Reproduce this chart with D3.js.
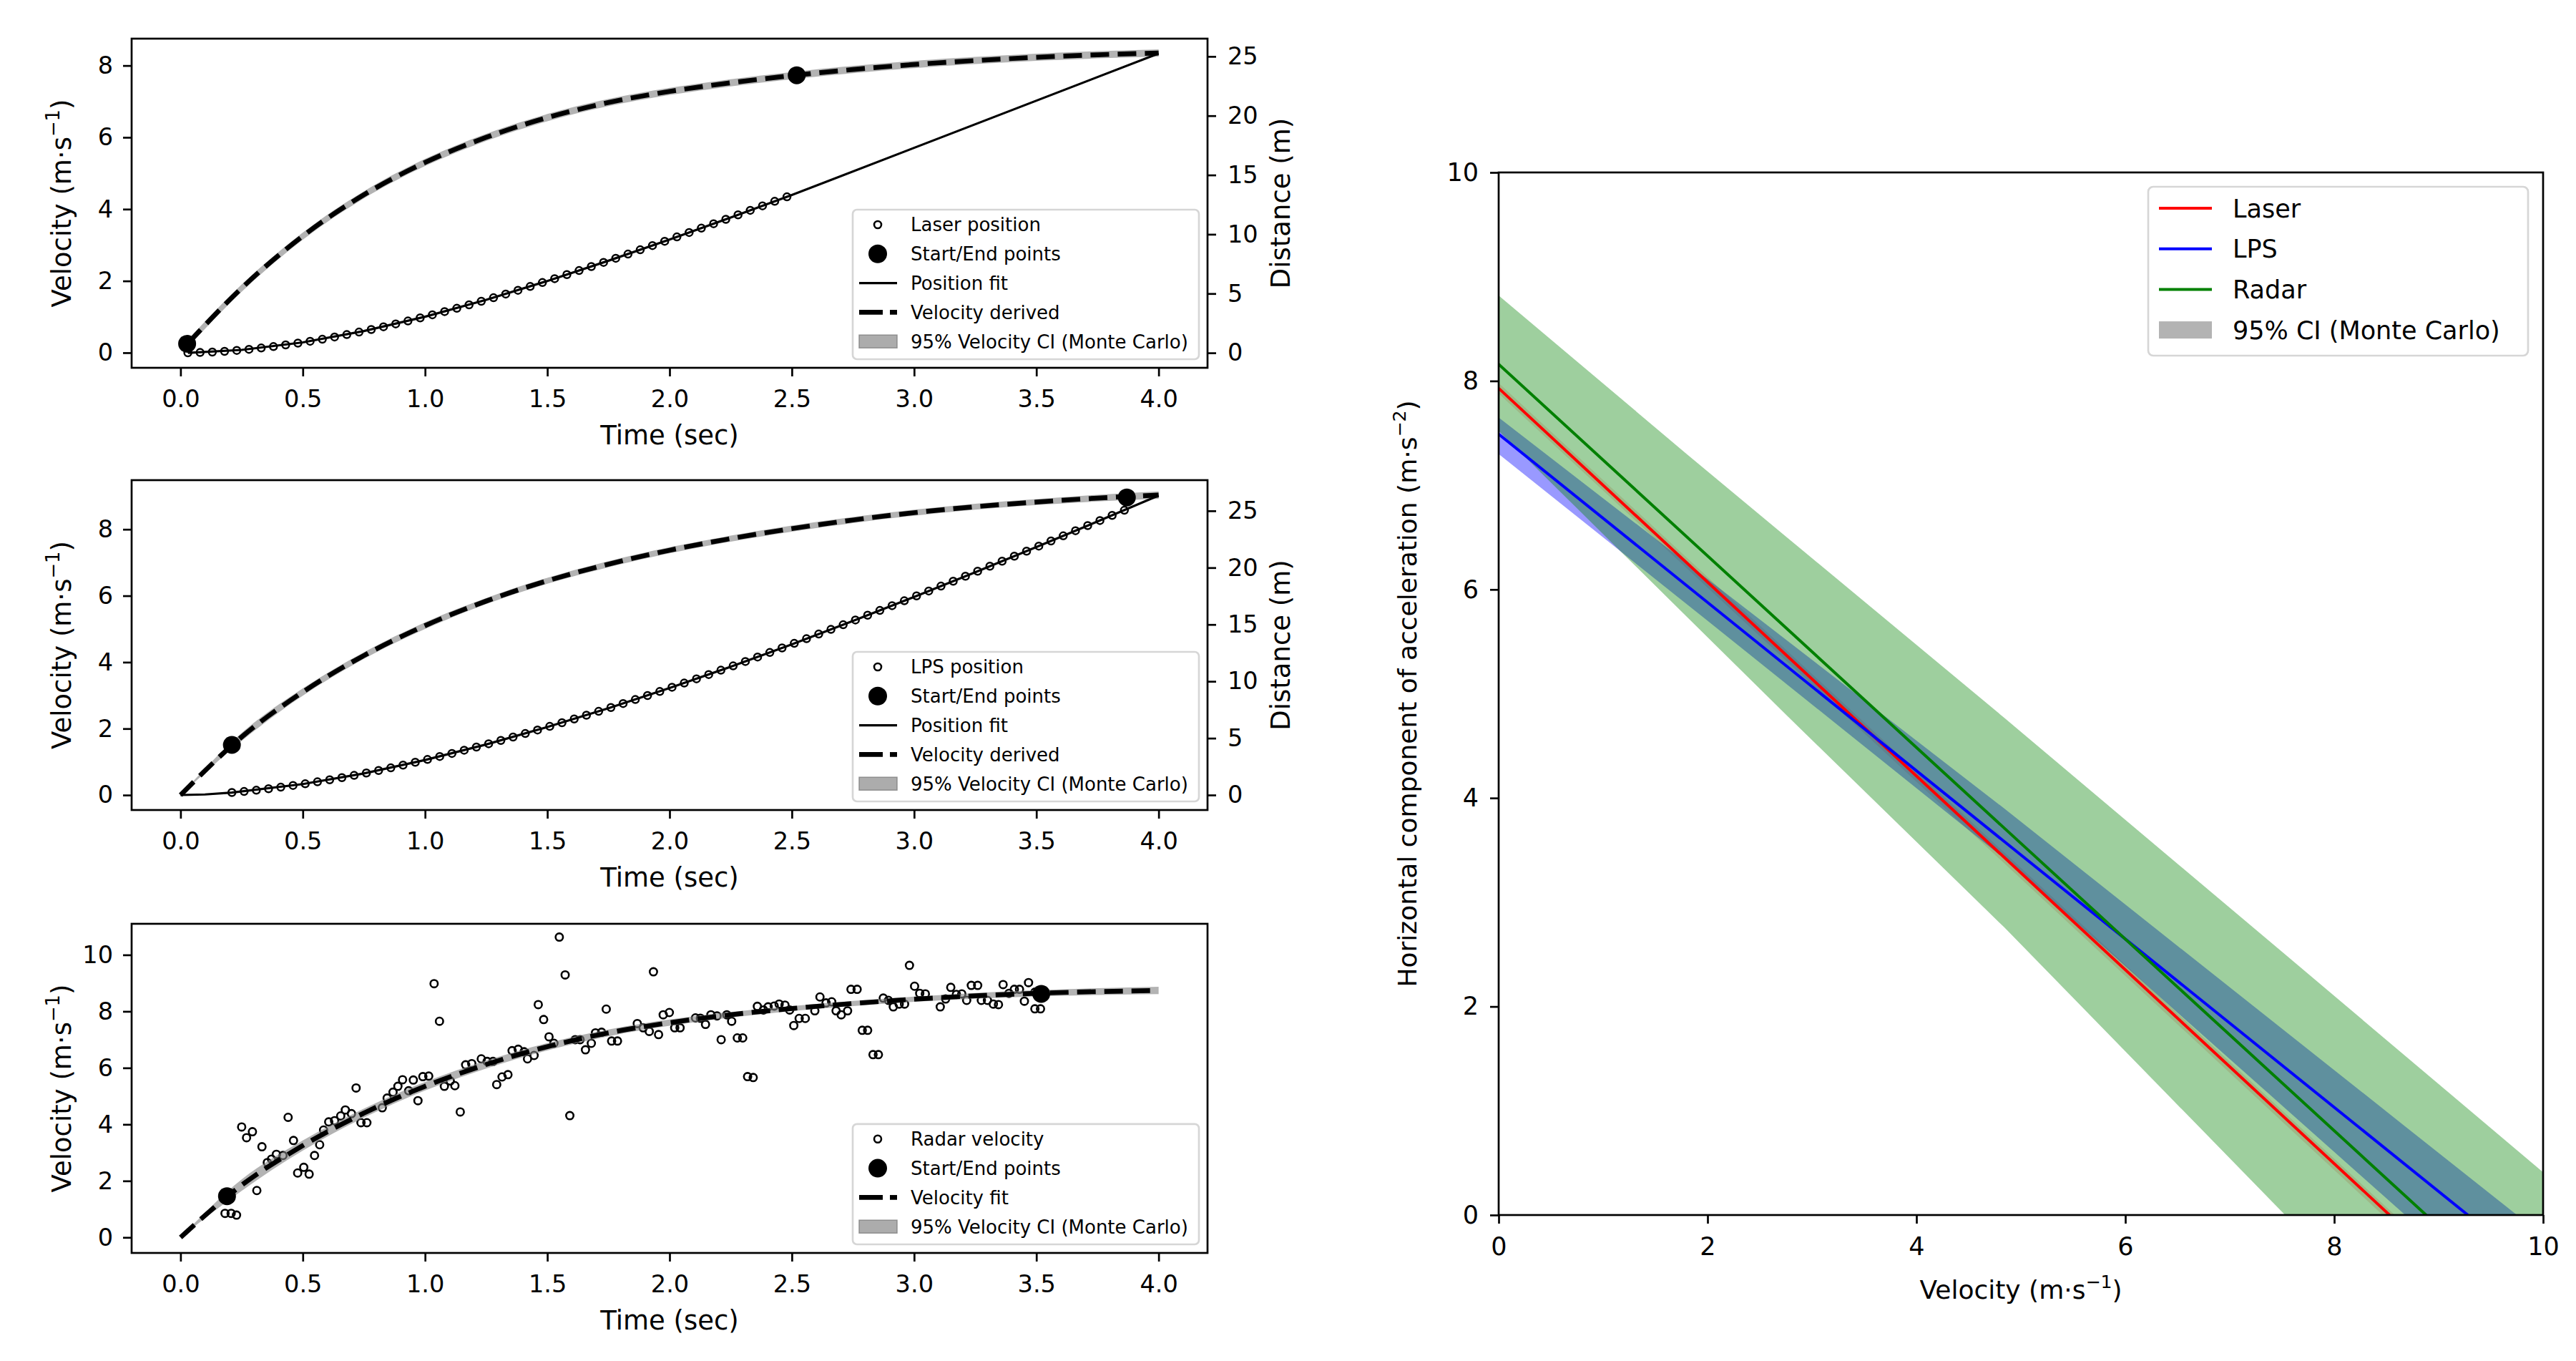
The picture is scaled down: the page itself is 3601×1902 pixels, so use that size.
<!DOCTYPE html>
<html>
<head>
<meta charset="utf-8">
<script src="https://cdn.jsdelivr.net/npm/d3@7"></script>
<style>
  body { margin: 0; background: #fff; }
  svg { display: block; font-family: "DejaVu Sans", sans-serif; }
</style>
</head>
<body>
<svg id="fig"></svg>
<script>
// ---------- data ----------
const timeTicks = [0, 0.5, 1.0, 1.5, 2.0, 2.5, 3.0, 3.5, 4.0];
const velGridT = [0, 0.25, 0.5, 0.75, 1.0, 1.25, 1.5, 1.75, 2.0, 2.25, 2.5, 2.75, 3.0, 3.25, 3.5, 3.75, 4.0];

// Laser panel
const laserPosT = [0.03,0.08,0.13,0.18,0.23,0.28,0.33,0.38,0.43,0.48,0.53,0.58,0.63,0.68,0.73,0.78,0.83,0.88,0.93,0.98,
  1.03,1.08,1.13,1.18,1.23,1.28,1.33,1.38,1.43,1.48,1.53,1.58,1.63,1.68,1.73,1.78,1.83,1.88,1.93,1.98,
  2.03,2.08,2.13,2.18,2.23,2.28,2.33,2.38,2.43,2.48];
const laserPos = [0.00,0.03,0.07,0.13,0.21,0.30,0.41,0.53,0.67,0.82,0.98,1.15,1.34,1.54,1.75,1.97,2.20,2.44,2.69,2.95,
  3.21,3.48,3.76,4.05,4.35,4.65,4.96,5.28,5.60,5.93,6.26,6.60,6.94,7.28,7.63,7.98,8.33,8.69,9.05,9.41,
  9.78,10.15,10.52,10.89,11.26,11.64,12.02,12.40,12.78,13.16];
const laserFitT = [0.03, 0.25, 0.5, 0.75, 1.0, 1.25, 1.5, 1.75, 2.0, 2.25, 2.5, 4.0];
const laserFitD = [0.00, 0.25, 0.88, 1.84, 3.05, 4.47, 6.06, 7.77, 9.56, 11.41, 13.31, 25.25];
const laserVelT = [0.03, 0.25, 0.5, 0.75, 1.0, 1.25, 1.5, 1.75, 2.0, 2.25, 2.5, 2.75, 3.0, 3.25, 3.5, 3.75, 4.0];
const laserVel   = [0.26,1.80,3.25,4.40,5.30,6.00,6.55,6.97,7.28,7.52,7.72,7.89,8.03,8.14,8.23,8.30,8.35];
const laserVelLo = [0.16,1.70,3.15,4.30,5.20,5.90,6.45,6.87,7.18,7.42,7.62,7.79,7.93,8.04,8.13,8.20,8.25];
const laserVelHi = [0.36,1.90,3.35,4.50,5.40,6.10,6.65,7.07,7.38,7.62,7.82,7.99,8.13,8.24,8.33,8.40,8.45];
const laserEndT = [0.027, 2.52];
const laserEndV = [0.25, 7.73];

// LPS panel
const lpsPosT = [0.21,0.26,0.31,0.36,0.41,0.46,0.51,0.56,0.61,0.66,0.71,0.76,0.81,0.86,0.91,0.96,
  1.01,1.06,1.11,1.16,1.21,1.26,1.31,1.36,1.41,1.46,1.51,1.56,1.61,1.66,1.71,1.76,1.81,1.86,1.91,1.96,
  2.01,2.06,2.11,2.16,2.21,2.26,2.31,2.36,2.41,2.46,2.51,2.56,2.61,2.66,2.71,2.76,2.81,2.86,2.91,2.96,
  3.01,3.06,3.11,3.16,3.21,3.26,3.31,3.36,3.41,3.46,3.51,3.56,3.61,3.66,3.71,3.76,3.81,3.86];
const lpsPos = [0.22,0.31,0.42,0.55,0.69,0.84,0.99,1.16,1.34,1.53,1.73,1.94,2.16,2.39,2.63,2.88,
  3.13,3.39,3.66,3.94,4.22,4.51,4.80,5.10,5.41,5.72,6.04,6.36,6.69,7.02,7.36,7.70,8.05,8.40,8.75,9.11,
  9.48,9.85,10.22,10.60,10.98,11.36,11.75,12.14,12.54,12.94,13.34,13.75,14.16,14.57,14.98,15.40,15.82,16.24,16.66,17.09,
  17.52,17.95,18.38,18.81,19.25,19.69,20.13,20.57,21.01,21.45,21.90,22.35,22.80,23.25,23.70,24.15,24.60,25.05];
const lpsFitT = [0, 0.1, 0.21, 0.5, 0.75, 1.0, 1.25, 1.5, 1.75, 2.0, 2.25, 2.5, 2.75, 3.0, 3.25, 3.5, 3.75, 4.0];
const lpsFitD = [0, 0.05, 0.22, 0.96, 1.90, 3.08, 4.45, 5.98, 7.63, 9.41, 11.28, 13.26, 15.32, 17.43, 19.60, 21.81, 24.06, 26.35];
const lpsVel   = [0,1.75,3.10,4.20,5.10,5.84,6.45,6.95,7.37,7.72,8.02,8.28,8.50,8.68,8.82,8.94,9.03];
const lpsVelLo = [0,1.63,2.99,4.10,5.00,5.75,6.36,6.86,7.28,7.63,7.93,8.19,8.41,8.59,8.73,8.84,8.92];
const lpsVelHi = [0,1.87,3.21,4.30,5.20,5.93,6.54,7.04,7.46,7.81,8.11,8.37,8.59,8.77,8.91,9.04,9.14];
const lpsEndT = [0.21, 3.87];
const lpsEndV = [1.51, 8.96];

// Radar panel
const radarT = [0.182,0.207,0.229,0.250,0.270,0.294,0.312,0.333,0.355,0.372,0.392,0.419,0.440,0.462,0.479,0.504,0.526,0.548,
  0.569,0.585,0.606,0.630,0.655,0.674,0.699,0.718,0.738,0.762,0.825,0.845,0.869,0.889,0.908,0.933,0.952,0.971,0.991,1.015,
  1.037,1.059,1.079,1.103,1.122,1.144,1.166,1.191,1.230,1.254,1.278,1.293,1.315,1.339,1.356,1.381,1.405,1.419,
  1.446,1.463,1.485,1.507,1.527,1.549,1.573,1.592,1.614,1.634,1.656,1.680,1.697,1.722,1.741,1.763,1.787,1.868,1.892,1.917,
  1.934,1.955,1.974,1.999,2.021,2.043,2.106,2.126,2.147,2.169,2.194,2.211,2.234,2.254,2.277,2.299,2.319,2.342,2.359,2.384,
  2.403,2.428,2.448,2.472,2.491,2.508,2.530,2.555,2.594,2.615,2.640,2.663,2.681,2.702,2.728,2.742,2.767,2.788,2.810,
  2.832,2.854,2.874,2.895,2.915,2.939,2.961,2.981,3.002,3.023,3.046,3.107,3.129,3.150,3.173,3.195,3.215,3.234,3.260,
  3.275,3.300,3.324,3.345,3.364,3.388,3.410,3.431,3.451,3.468,3.494,3.517,3.494,3.508];
const radarV = [0.85,0.85,0.79,3.91,3.53,3.74,1.66,3.21,2.65,2.77,2.94,2.90,4.25,3.43,2.28,2.48,2.24,2.90,
  3.28,3.80,4.09,4.13,4.30,4.51,4.38,5.29,4.06,4.06,4.59,4.93,5.14,5.35,5.58,5.19,5.57,4.84,5.69,5.71,
  8.98,7.65,5.35,5.54,5.37,4.44,6.11,6.15,6.32,6.23,6.23,5.41,5.68,5.76,6.61,6.66,6.57,6.32,
  6.44,8.24,7.71,7.10,6.87,10.63,9.29,4.31,7.00,7.00,6.64,6.87,7.24,7.26,8.08,6.95,6.95,7.57,7.42,7.29,
  9.40,7.18,7.88,7.96,7.42,7.42,7.77,7.76,7.54,7.88,7.84,7.00,7.88,7.65,7.06,7.06,5.69,5.66,8.18,8.05,
  8.16,8.19,8.26,8.22,8.05,7.50,7.75,7.75,8.02,8.51,8.30,8.34,8.02,7.88,8.02,8.78,8.78,7.33,7.33,
  6.47,6.47,8.47,8.39,8.16,8.26,8.26,9.63,8.89,8.64,8.62,8.16,8.44,8.85,8.60,8.62,8.39,8.92,8.92,
  8.39,8.39,8.26,8.24,8.95,8.64,8.78,8.78,8.36,9.02,8.09,8.09,8.68,8.51];
const radarFit = [0,1.85,3.25,4.40,5.35,6.12,6.75,7.24,7.60,7.88,8.10,8.28,8.43,8.55,8.64,8.70,8.74];
const radarLo  = [0,1.65,3.07,4.24,5.20,5.98,6.62,7.12,7.49,7.78,8.01,8.19,8.34,8.45,8.53,8.58,8.61];
const radarHi  = [0,2.05,3.43,4.56,5.50,6.26,6.88,7.36,7.71,7.98,8.19,8.37,8.52,8.65,8.75,8.82,8.87];
const radarEndT = [0.19, 3.52];
const radarEndV = [1.46, 8.62];

// Right panel: acceleration vs velocity
const accTicks = [0, 2, 4, 6, 8, 10];
const laserAccV = [0, 8.53], laserAccA = [7.93, 0];
const lpsAccV = [0, 9.28],   lpsAccA = [7.49, 0];
const radarAccV = [0, 8.88], radarAccA = [8.16, 0];
const laserBandV = [0, 10], laserBandLo = [7.88, -1.43], laserBandHi = [7.98, -1.32];
const lpsBandV = [0, 2, 4.84, 8.68, 9.75, 10];
const lpsBandLo = [7.30, 5.70, 3.42, 0, -0.95, -1.18];
const lpsBandHi = [7.65, 6.10, 3.90, 0.85, 0, -0.20];
const radarBandV = [0, 1.8, 2.76, 4.84, 7.53, 10];
const radarBandLo = [7.52, 5.74, 4.79, 2.76, 0, -2.54];
const radarBandHi = [8.82, 7.30, 6.50, 4.77, 2.50, 0.41];

// ---------- drawing ----------
const W = 3601, H = 1902;
const svg = d3.select("#fig").attr("width", W).attr("height", H);
svg.append("rect").attr("width", W).attr("height", H).attr("fill", "#fff");
const defs = svg.append("defs");

const LW = 2.7;                     // axes line width
const tx = d3.scaleLinear().domain([-0.2, 4.2]).range([184, 1688]);

function styleAxis(sel, fs) {
  sel.attr("font-family", "DejaVu Sans, sans-serif").attr("font-size", fs);
  sel.select(".domain").remove();
  sel.selectAll(".tick line").attr("stroke", "#000").attr("stroke-width", LW);
  sel.selectAll(".tick text").attr("fill", "#000");
}

function supLabel(parent, cx, cy, rot, pre, sup, post, fs) {
  const t = parent.append("text")
    .attr("transform", `translate(${cx},${cy}) rotate(${rot})`)
    .attr("text-anchor", "middle").attr("font-size", fs).attr("fill", "#000");
  t.append("tspan").text(pre);
  if (sup) {
    t.append("tspan").attr("font-size", fs * 0.7).attr("dy", -fs * 0.42).text(sup);
    t.append("tspan").attr("dy", fs * 0.42).text(post);
  }
  return t;
}

function clipFor(id, x0, y0, x1, y1) {
  defs.append("clipPath").attr("id", id).append("rect")
    .attr("x", x0).attr("y", y0).attr("width", x1 - x0).attr("height", y1 - y0);
  return `url(#${id})`;
}

function leftLegend(g, bottom, items) {
  const rowH = 40.8;
  const boxH = items.length * rowH + 5;
  const top = bottom - 12 - boxH;
  g.append("rect").attr("x", 1192).attr("y", top).attr("width", 484).attr("height", boxH)
    .attr("rx", 6).attr("fill", "#fff").attr("fill-opacity", 0.8)
    .attr("stroke", "#d6d6d6").attr("stroke-width", LW);
  items.forEach((it, i) => {
    const cy = top + 21 + i * rowH;
    if (it.kind === "ring") {
      g.append("circle").attr("cx", 1227).attr("cy", cy).attr("r", 5)
        .attr("fill", "none").attr("stroke", "#000").attr("stroke-width", 2.6);
    } else if (it.kind === "dot") {
      g.append("circle").attr("cx", 1227).attr("cy", cy).attr("r", 13).attr("fill", "#000");
    } else if (it.kind === "line") {
      g.append("line").attr("x1", 1201).attr("x2", 1254).attr("y1", cy).attr("y2", cy)
        .attr("stroke", "#000").attr("stroke-width", 3.4);
    } else if (it.kind === "dash") {
      g.append("line").attr("x1", 1201).attr("x2", 1234).attr("y1", cy).attr("y2", cy)
        .attr("stroke", "#000").attr("stroke-width", 6.7);
      g.append("line").attr("x1", 1244).attr("x2", 1254).attr("y1", cy).attr("y2", cy)
        .attr("stroke", "#000").attr("stroke-width", 6.7);
    } else if (it.kind === "patch") {
      g.append("rect").attr("x", 1201).attr("y", cy - 9).attr("width", 53).attr("height", 18)
        .attr("fill", "#808080").attr("fill-opacity", 0.65)
        .attr("stroke", "#808080").attr("stroke-opacity", 0.8).attr("stroke-width", 1.5);
    }
    g.append("text").attr("x", 1273).attr("y", cy).attr("dy", "0.36em")
      .attr("font-size", 26).attr("fill", "#000").text(it.label);
  });
}

function drawPanel(p) {
  const g = svg.append("g");
  const y = d3.scaleLinear().domain(p.yDomain).range([p.bottom, p.top]);
  const y2 = p.y2Domain ? d3.scaleLinear().domain(p.y2Domain).range([p.bottom, p.top]) : null;
  const body = g.append("g").attr("clip-path", clipFor("clip" + p.id, 184, p.top, 1688, p.bottom));
  const idx = d3.range(velGridT.length);
  const vt = p.velT || velGridT;

  if (p.scatterT) {
    body.append("g").selectAll("circle").data(d3.range(p.scatterT.length)).join("circle")
      .attr("cx", i => tx(p.scatterT[i])).attr("cy", i => y(p.scatterV[i])).attr("r", 5.2)
      .attr("fill", "none").attr("stroke", "#000").attr("stroke-width", 2.6);
  }
  // velocity CI band + dashed velocity
  body.append("path")
    .attr("d", d3.area().x(i => tx(vt[i])).y0(i => y(p.velLo[i])).y1(i => y(p.velHi[i]))
      .curve(d3.curveMonotoneX)(idx))
    .attr("fill", "#808080").attr("fill-opacity", 0.6);
  body.append("path")
    .attr("d", d3.line().x(i => tx(vt[i])).y(i => y(p.vel[i])).curve(d3.curveMonotoneX)(idx))
    .attr("fill", "none").attr("stroke", "#000").attr("stroke-width", 6.7)
    .attr("stroke-dasharray", "26,12");
  body.append("g").selectAll("circle").data(d3.range(p.endT.length)).join("circle")
    .attr("cx", i => tx(p.endT[i])).attr("cy", i => y(p.endV[i])).attr("r", 12.5).attr("fill", "#000");

  if (y2) {
    body.append("path")
      .attr("d", d3.line().x(i => tx(p.fitT[i])).y(i => y2(p.fitD[i]))(d3.range(p.fitT.length)))
      .attr("fill", "none").attr("stroke", "#000").attr("stroke-width", 3.2);
    body.append("g").selectAll("circle").data(d3.range(p.posT.length)).join("circle")
      .attr("cx", i => tx(p.posT[i])).attr("cy", i => y2(p.pos[i])).attr("r", 5)
      .attr("fill", "none").attr("stroke", "#000").attr("stroke-width", 2.5);
  }

  // frame
  g.append("rect").attr("x", 184).attr("y", p.top).attr("width", 1688 - 184).attr("height", p.bottom - p.top)
    .attr("fill", "none").attr("stroke", "#000").attr("stroke-width", LW);

  // axes
  g.append("g").attr("transform", `translate(0,${p.bottom})`)
    .call(d3.axisBottom(tx).tickValues(timeTicks).tickFormat(d3.format(".1f")).tickSize(12).tickPadding(19))
    .call(s => styleAxis(s, 33.6));
  g.append("g").attr("transform", "translate(184,0)")
    .call(d3.axisLeft(y).tickValues(p.yTicks).tickFormat(d3.format("d")).tickSize(12).tickPadding(14))
    .call(s => styleAxis(s, 33.6));
  if (y2) {
    g.append("g").attr("transform", "translate(1688,0)")
      .call(d3.axisRight(y2).tickValues([0, 5, 10, 15, 20, 25]).tickFormat(d3.format("d")).tickSize(12).tickPadding(16))
      .call(s => styleAxis(s, 33.6));
    g.append("text").attr("transform", `translate(1803,${(p.top + p.bottom) / 2}) rotate(-90)`)
      .attr("text-anchor", "middle").attr("font-size", 37).attr("fill", "#000").text("Distance (m)");
  }

  g.append("text").attr("x", 936).attr("y", p.bottom + 107).attr("text-anchor", "middle")
    .attr("font-size", 37).attr("fill", "#000").text("Time (sec)");
  supLabel(g, 99, (p.top + p.bottom) / 2, -90, "Velocity (m\u00b7s", "\u22121", ")", 37);

  leftLegend(g, p.bottom, p.legend);
}

drawPanel({
  id: "laser", top: 54, bottom: 514,
  yDomain: [-0.42, 8.75], y2Domain: [-1.26, 26.5], yTicks: [0, 2, 4, 6, 8],
  velT: laserVelT, vel: laserVel, velLo: laserVelLo, velHi: laserVelHi,
  endT: laserEndT, endV: laserEndV,
  posT: laserPosT, pos: laserPos, fitT: laserFitT, fitD: laserFitD,
  legend: [
    { kind: "ring", label: "Laser position" },
    { kind: "dot", label: "Start/End points" },
    { kind: "line", label: "Position fit" },
    { kind: "dash", label: "Velocity derived" },
    { kind: "patch", label: "95% Velocity CI (Monte Carlo)" }
  ]
});

drawPanel({
  id: "lps", top: 671, bottom: 1132,
  yDomain: [-0.45, 9.48], y2Domain: [-1.32, 27.7], yTicks: [0, 2, 4, 6, 8],
  vel: lpsVel, velLo: lpsVelLo, velHi: lpsVelHi,
  endT: lpsEndT, endV: lpsEndV,
  posT: lpsPosT, pos: lpsPos, fitT: lpsFitT, fitD: lpsFitD,
  legend: [
    { kind: "ring", label: "LPS position" },
    { kind: "dot", label: "Start/End points" },
    { kind: "line", label: "Position fit" },
    { kind: "dash", label: "Velocity derived" },
    { kind: "patch", label: "95% Velocity CI (Monte Carlo)" }
  ]
});

drawPanel({
  id: "radar", top: 1291, bottom: 1751,
  yDomain: [-0.55, 11.1], yTicks: [0, 2, 4, 6, 8, 10],
  scatterT: radarT, scatterV: radarV,
  vel: radarFit, velLo: radarLo, velHi: radarHi,
  endT: radarEndT, endV: radarEndV,
  legend: [
    { kind: "ring", label: "Radar velocity" },
    { kind: "dot", label: "Start/End points" },
    { kind: "dash", label: "Velocity fit" },
    { kind: "patch", label: "95% Velocity CI (Monte Carlo)" }
  ]
});

// ---------- right panel ----------
const R = { left: 2095, right: 3555, top: 241, bottom: 1698 };
const ax = d3.scaleLinear().domain([0, 10]).range([R.left, R.right]);
const ay = d3.scaleLinear().domain([0, 10]).range([R.bottom, R.top]);
const rg = svg.append("g");
const rbody = rg.append("g").attr("clip-path", clipFor("clipAcc", R.left, R.top, R.right, R.bottom));

function band(vs, lo, hi, color, op) {
  const ii = d3.range(vs.length);
  rbody.append("path")
    .attr("d", d3.area().x(i => ax(vs[i])).y0(i => ay(lo[i])).y1(i => ay(hi[i]))(ii))
    .attr("fill", color).attr("fill-opacity", op);
}
function accLine(vs, as, color) {
  rbody.append("path")
    .attr("d", d3.line().x(i => ax(vs[i])).y(i => ay(as[i]))(d3.range(vs.length)))
    .attr("fill", "none").attr("stroke", color).attr("stroke-width", 4);
}
band(laserBandV, laserBandLo, laserBandHi, "#ff0000", 0.15);
band(lpsBandV, lpsBandLo, lpsBandHi, "#0000ff", 0.4);
band(radarBandV, radarBandLo, radarBandHi, "#008000", 0.38);
accLine(laserAccV, laserAccA, "#ff0000");
accLine(lpsAccV, lpsAccA, "#0000ff");
accLine(radarAccV, radarAccA, "#008000");

rg.append("rect").attr("x", R.left).attr("y", R.top).attr("width", R.right - R.left).attr("height", R.bottom - R.top)
  .attr("fill", "none").attr("stroke", "#000").attr("stroke-width", LW);
rg.append("g").attr("transform", `translate(0,${R.bottom})`)
  .call(d3.axisBottom(ax).tickValues(accTicks).tickFormat(d3.format("d")).tickSize(12).tickPadding(19))
  .call(s => styleAxis(s, 35));
rg.append("g").attr("transform", `translate(${R.left},0)`)
  .call(d3.axisLeft(ay).tickValues(accTicks).tickFormat(d3.format("d")).tickSize(12).tickPadding(16))
  .call(s => styleAxis(s, 35));

supLabel(rg, (R.left + R.right) / 2, 1815, 0, "Velocity (m\u00b7s", "\u22121", ")", 36);
supLabel(rg, 1980, (R.top + R.bottom) / 2, -90, "Horizontal component of acceleration (m\u00b7s", "\u22122", ")", 36);

// legend
const accLegend = [
  { label: "Laser", color: "#ff0000" },
  { label: "LPS", color: "#0000ff" },
  { label: "Radar", color: "#008000" },
  { label: "95% CI (Monte Carlo)", color: null }
];
rg.append("rect").attr("x", 3003).attr("y", 261).attr("width", 531).attr("height", 236)
  .attr("rx", 7).attr("fill", "#fff").attr("fill-opacity", 0.8)
  .attr("stroke", "#d6d6d6").attr("stroke-width", LW);
accLegend.forEach((d, i) => {
  const cy = 291 + i * 56.7;
  if (d.color) {
    rg.append("line").attr("x1", 3018).attr("x2", 3092).attr("y1", cy).attr("y2", cy)
      .attr("stroke", d.color).attr("stroke-width", 4);
  } else {
    rg.append("rect").attr("x", 3018).attr("y", cy - 12).attr("width", 74).attr("height", 24)
      .attr("fill", "#808080").attr("fill-opacity", 0.6);
  }
  rg.append("text").attr("x", 3121).attr("y", cy).attr("dy", "0.36em")
    .attr("font-size", 35).attr("fill", "#000").text(d.label);
});
</script>
</body>
</html>
